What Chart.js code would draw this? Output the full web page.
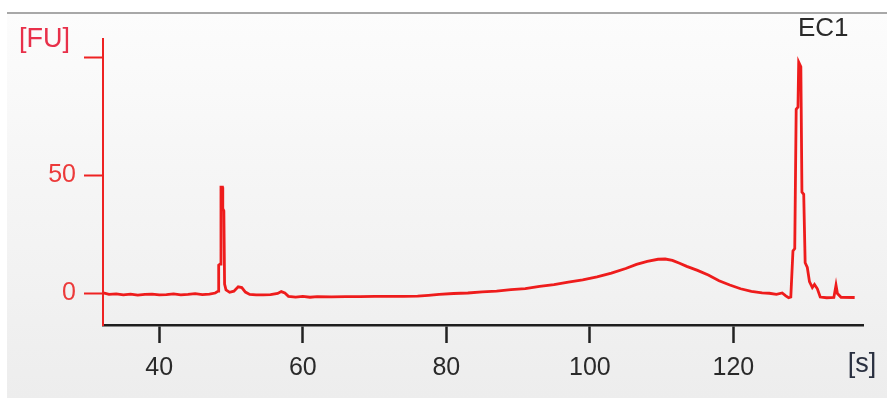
<!DOCTYPE html>
<html>
<head>
<meta charset="utf-8">
<script src="https://cdn.jsdelivr.net/npm/chart.js@4"></script>
<style>
  html, body { margin: 0; padding: 0; background: #fff; }
  #wrap { width: 887px; height: 398px; }
</style>
</head>
<body>
<div id="wrap"><canvas id="myChart" width="887" height="398"></canvas></div>
<script>
// electropherogram trace, time in seconds and fluorescence in FU
var times = [32.2, 33, 34, 35, 36, 37, 38, 39, 40, 41, 42, 43, 44, 45, 46, 47, 47.8, 48.1,
  48.2, 48.28, 48.5, 48.6, 48.8, 48.85, 49.0, 49.1, 49.3, 49.8, 50.4, 51.0, 51.5, 52.0, 52.6,
  53.5, 54.5, 55.5, 56.5, 57.0, 57.5, 58.0, 59, 60, 61, 62, 64, 66, 68, 70, 72, 74, 76, 77.5,
  79, 81, 83, 85, 87, 89, 91, 93, 95, 97, 99, 101, 103, 105, 106.5, 108, 109.5, 110.5, 111.5,
  112.5, 113.5, 115, 116.5, 118, 119.5, 121, 122.5, 124, 125, 126, 126.8, 127.3, 127.7, 128.0,
  128.3, 128.55, 128.75, 129.0, 129.1, 129.4, 129.55, 129.8, 130.0, 130.3, 130.6, 131.0, 131.3,
  131.7, 132.1, 133, 134.0, 134.3, 134.5, 135, 136.9];
var fu = [0.3, -0.4, -0.2, -0.6, -0.3, -0.7, -0.4, -0.3, -0.6, -0.5, -0.2, -0.6, -0.4, -0.1, -0.5, -0.3, 0.2, 0.8,
  1, 12, 12.5, 45, 45, 36, 35, 4, 1.5, 0.5, 1, 2.8, 2.5, 0.6, -0.4,
  -0.6, -0.6, -0.5, 0, 0.8, 0.2, -1.2, -1.5, -1.2, -1.6, -1.3, -1.4, -1.3, -1.3, -1.2, -1.2, -1.2, -1.1, -0.8,
  -0.4, 0, 0.2, 0.7, 1.0, 1.6, 2.1, 3.0, 3.8, 4.8, 5.8, 7.0, 8.6, 10.6, 12.3, 13.6, 14.5, 14.6, 14.0,
  12.8, 11.5, 9.8, 7.8, 5.4, 3.6, 2.0, 0.9, 0.3, 0.1, -0.4, 0.2, -1.0, -1.8, -1.5,
  18, 19, 78, 79, 98, 96, 43, 42, 13, 11, 5, 2.5, 3.8,
  2.0, -1.5, -1.8, -1.7, 3.5, 0, -1.6, -1.7];

var xTicks = [40, 60, 80, 100, 120];
var yTicks = [0, 50, 100];
var yTickLabels = ["0", "50", ""];

var points = [];
for (var i = 0; i < times.length; i++) {
  points.push({ x: times[i], y: fu[i] });
}

var backdrop = {
  id: "backdrop",
  beforeDraw: function(chart) {
    var c = chart.ctx;
    c.save();
    c.fillStyle = "#ffffff";
    c.fillRect(0, 0, chart.width, chart.height);
    var g = c.createLinearGradient(0, 13, 0, chart.height);
    g.addColorStop(0, "#fcfcfc");
    g.addColorStop(1, "#ededed");
    c.fillStyle = g;
    c.fillRect(7, 13, chart.width - 7, chart.height - 13);
    c.strokeStyle = "#a8a8a8";
    c.lineWidth = 2;
    c.beginPath();
    c.moveTo(7, 13);
    c.lineTo(chart.width, 13);
    c.stroke();
    c.restore();
  },
  afterDraw: function(chart) {
    var c = chart.ctx;
    c.save();
    c.font = "27px 'Liberation Sans'";
    c.textBaseline = "middle";
    c.fillStyle = "#e8304a";
    c.textAlign = "left";
    c.fillText("[FU]", 19, 40);
    c.fillStyle = "#2a2a2a";
    c.font = "26px 'Liberation Sans'";
    c.fillText("EC1", 798, 29);
    c.fillStyle = "#2a3040";
    c.textAlign = "center";
    c.font = "27px 'Liberation Sans'";
    c.fillText("[s]", 862, 365);
    c.restore();
  }
};

var ctx = document.getElementById("myChart").getContext("2d");
var chart = new Chart(ctx, {
  type: "line",
  data: {
    datasets: [{
      data: points,
      borderColor: "#ee1c1c",
      borderWidth: 2.8,
      pointRadius: 0,
      tension: 0,
      fill: false
    }]
  },
  options: {
    responsive: false,
    animation: false,
    layout: { padding: { left: 0, top: 39, right: 24, bottom: 0 } },
    plugins: { legend: { display: false }, tooltip: { enabled: false } },
    scales: {
      x: {
        type: "linear",
        min: 32.16,
        max: 138.06,
        afterBuildTicks: function(scale) {
          scale.ticks = xTicks.map(function(v) { return { value: v }; });
        },
        afterFit: function(scale) { scale.height = 73; },
        grid: { drawOnChartArea: false, drawTicks: true, tickLength: 18, tickWidth: 2.5, color: "#222" },
        border: { display: true, color: "#1e1e1e", width: 2.5 },
        ticks: {
          color: "#2a2a2a",
          font: { family: "'Liberation Sans'", size: 25 },
          padding: 10,
          maxRotation: 0,
          callback: function(v) { return String(v); }
        }
      },
      y: {
        min: -13.35,
        max: 107.8,
        afterBuildTicks: function(scale) {
          scale.ticks = yTicks.map(function(v) { return { value: v }; });
        },
        afterFit: function(scale) { scale.width = 103; },
        grid: { drawOnChartArea: false, drawTicks: true, tickLength: 19, tickWidth: 2, color: "#ee2222" },
        border: { display: true, color: "#ee2222", width: 2 },
        ticks: {
          color: "#ec3a3a",
          font: { family: "'Liberation Sans'", size: 25 },
          padding: 8,
          callback: function(v) {
            var k = yTicks.indexOf(v);
            return k >= 0 ? yTickLabels[k] : "";
          }
        }
      }
    }
  },
  plugins: [backdrop]
});
</script>
</body>
</html>
